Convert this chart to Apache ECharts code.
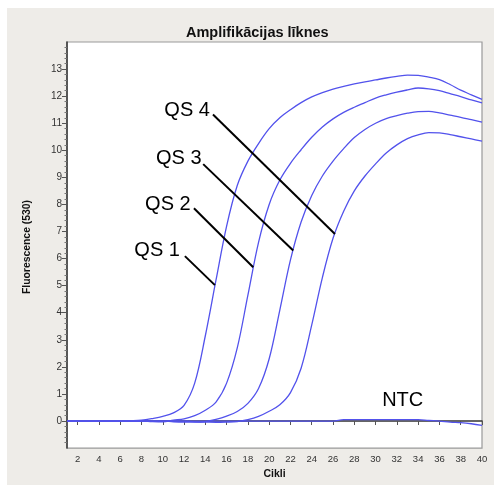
<!DOCTYPE html>
<html><head><meta charset="utf-8">
<script src="https://cdn.jsdelivr.net/npm/echarts@6/dist/echarts.min.js"></script>
<style>html,body{margin:0;padding:0;background:#fff}#c{width:494px;height:485px}</style>
</head><body><div id="c"></div>
<script>
const cycles = [1,2,3,4,5,6,7,8,9,10,11,12,13,14,15,16,17,18,19,20,21,22,23,24,25,26,27,28,29,30,31,32,33,34,35,36,37,38,39,40];
const qs1 = [0,0,0,0,0,0,0.01,0.03,0.09,0.17,0.3,0.58,1.4,3.15,5.2,7.2,8.7,9.6,10.25,10.8,11.2,11.5,11.76,11.97,12.13,12.26,12.36,12.45,12.53,12.6,12.67,12.73,12.78,12.77,12.7,12.61,12.43,12.22,12.05,11.88];
const qs2 = [0,0,0,0,0,0,0,0,-0.02,-0.03,0.03,0.08,0.2,0.4,0.7,1.4,2.7,4.65,6.6,8.0,8.9,9.52,10.02,10.48,10.86,11.16,11.4,11.59,11.76,11.93,12.05,12.15,12.23,12.3,12.27,12.2,12.09,11.98,11.86,11.75];
const qs3 = [0,0,0,0,0,0,0,0,0,0,-0.03,-0.04,-0.04,-0.02,0.06,0.18,0.35,0.65,1.2,2.3,4.1,5.95,7.35,8.33,9.05,9.6,10.06,10.47,10.77,11.0,11.17,11.28,11.37,11.43,11.44,11.38,11.3,11.22,11.13,11.04];
const qs4 = [0,0,0,0,0,0,0,0,0,0,0,0,-0.03,-0.04,-0.05,-0.04,-0.02,0.05,0.17,0.36,0.6,1.05,1.95,3.55,5.3,6.75,7.75,8.5,9.05,9.5,9.9,10.2,10.43,10.57,10.65,10.64,10.58,10.5,10.42,10.34];
const ntc = [0,0,0,0,0,0,0,0,0,0,0,0,0,0,0,0,0,0,0,0,0,0,0,0,0,0,0.05,0.05,0.05,0.05,0.05,0.05,0.05,0.05,0.02,0,-0.04,-0.06,-0.1,-0.16];
const xTicks = [2,4,6,8,10,12,14,16,18,20,22,24,26,28,30,32,34,36,38,40];
const yTicks = [0,1,2,3,4,5,6,7,8,9,10,11,12,13];
const labelNames = ['QS 4','QS 3','QS 2','QS 1','NTC'];
const labelAnchors = [[14.43,11.47],[13.65,9.69],[12.62,8.0],[11.61,6.29],[34.48,0.77]];
const leaderStarts = [[14.72,11.32],[13.8,9.49],[12.93,7.86],[12.08,6.09]];
const leaderEnds = [[26.18,6.91],[22.26,6.3],[18.5,5.68],[14.9,5.02]];

const FONT = 'Arial, "Liberation Sans", sans-serif';
const BLUE = '#5252ec';
const pairs = arr => cycles.map((c,i)=>[c, arr[i]]);
function curve(name, arr){
  return {name, type:'line', data:pairs(arr), showSymbol:false, smooth:0.35,
    lineStyle:{color:BLUE, width:1.3}, itemStyle:{color:BLUE}, z:2};
}
const chart = echarts.init(document.getElementById('c'), null, {renderer:'canvas'});
chart.setOption({
  animation:false,
  backgroundColor:'#ffffff',
  graphic:[
    {type:'rect', shape:{x:7,y:8,width:487,height:477}, style:{fill:'#eeece8'}, z:-10, silent:true},
    {type:'text', x:27.5, y:247, rotation:Math.PI/2, style:{text:'Fluorescence (530)', font:'bold 10.4px '+FONT, fill:'#111', textAlign:'center', textVerticalAlign:'middle'}, z:10}
  ],
  title:{text:'Amplifikācijas līknes', left:181, top:20,
    textStyle:{fontSize:14.5, fontWeight:'bold', color:'#111', fontFamily:FONT}},
  grid:{left:67, right:12, top:42, bottom:35, show:true, backgroundColor:'#ffffff', borderColor:'#999', borderWidth:1.2},
  xAxis:{type:'value', min:1, max:40,
    name:'Cikli', nameLocation:'middle', nameGap:20,
    nameTextStyle:{fontSize:10.5, fontWeight:'bold', color:'#111', fontFamily:FONT},
    axisLine:{show:true, lineStyle:{color:'#333', width:1.5}},
    axisTick:{show:true, length:4, customValues:xTicks, lineStyle:{color:'#555'}},
    axisLabel:{customValues:xTicks, fontSize:9.5, color:'#333', margin:6, fontFamily:FONT},
    splitLine:{show:false}},
  yAxis:{type:'value', min:-1, max:14, interval:1,
    axisLine:{show:true, lineStyle:{color:'#333', width:1.5}},
    axisTick:{show:true, length:5, customValues:yTicks, lineStyle:{color:'#555'}},
    minorTick:{show:true, splitNumber:5, length:2.5, lineStyle:{color:'#777'}},
    axisLabel:{customValues:yTicks, fontSize:10, color:'#333', margin:5, fontFamily:FONT},
    splitLine:{show:false}},
  series:[
    curve('QS 1', qs1), curve('QS 2', qs2), curve('QS 3', qs3), curve('QS 4', qs4),
    Object.assign(curve('NTC', ntc), {
      markLine:{silent:true, symbol:['none','none'], z:5,
        lineStyle:{color:'#000', width:2, type:'solid'}, label:{show:false},
        data: leaderStarts.map((s,i)=>[{coord:s},{coord:leaderEnds[i]}])},
      markPoint:{silent:true, symbol:'circle', symbolSize:0, z:6,
        itemStyle:{color:'transparent'},
        label:{show:true, position:'left', distance:0, fontSize:20, color:'#000', fontFamily:FONT,
          formatter: p => p.name},
        data: labelAnchors.map((a,i)=>({name:labelNames[i], coord:a}))}
    })
  ]
});
</script></body></html>
